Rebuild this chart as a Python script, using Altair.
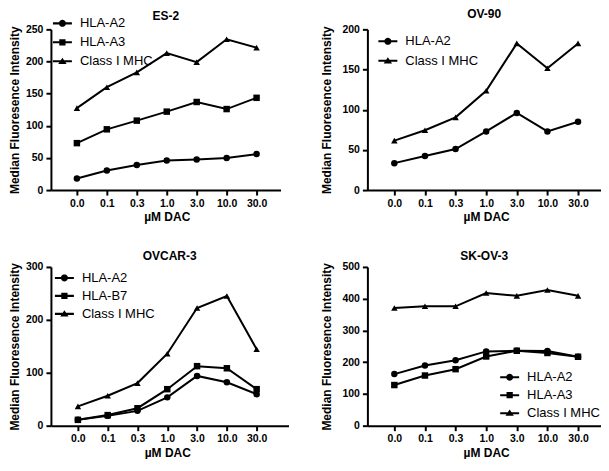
import json
import math
import altair as alt
import pandas as pd

# ---- data ----
dac_labels = ["0.0", "0.1", "0.3", "1.0", "3.0", "10.0", "30.0"]

es2_names = ["HLA-A2", "HLA-A3", "Class I MHC"]
es2_a2 = [18, 30.5, 39, 46, 47.5, 50, 56]
es2_a3 = [73, 94.5, 108, 122, 137, 126, 143.5]
es2_mhc = [127.5, 160, 183, 213, 199, 234.5, 221.5]

ov90_names = ["HLA-A2", "Class I MHC"]
ov90_a2 = [33.5, 42.5, 51, 73, 96, 73, 85]
ov90_mhc = [61.5, 74.5, 90.5, 123.5, 182.5, 151.5, 182.5]

ovcar3_names = ["HLA-A2", "HLA-B7", "Class I MHC"]
ovcar3_a2 = [11, 18.5, 28, 53.5, 94, 82, 59.5]
ovcar3_b7 = [11, 20, 33, 69, 112.5, 108.5, 69]
ovcar3_mhc = [36.5, 56.5, 80.5, 136, 222.5, 245, 144.5]

skov3_names = ["HLA-A2", "HLA-A3", "Class I MHC"]
skov3_a2 = [162.5, 189.5, 206, 234, 236, 235, 217]
skov3_a3 = [128, 158, 178, 218, 236, 229, 217]
skov3_mhc = [370.5, 376, 376, 418, 409, 427.5, 409]

FONT = "Liberation Sans"
Y_TITLE = "Median Fluoresence Intensity"
X_TITLE = "\u00b5M DAC"

# marker glyphs on the plot
MARKERS = {"circle": "circle", "square": "square", "triangle": "triangle-up"}

# legend glyphs (filled outlines only, all clockwise): a bar for the line plus the marker
BAR = "M-1,-0.11H1V0.11H-1Z"
_r = 0.37
_circ = "M" + "L".join(
    "%.3f,%.3f" % (_r * math.cos(2 * math.pi * k / 20), _r * math.sin(2 * math.pi * k / 20))
    for k in range(20)) + "Z"
LEG = {
    "circle": BAR + _circ,
    "square": BAR + "M-0.33,-0.33H0.33V0.33H-0.33Z",
    "triangle": BAR + "M0,-0.38L0.44,0.28H-0.44Z",
}


def kind(name):
    if name == "HLA-A2":
        return "circle"
    if name == "Class I MHC":
        return "triangle"
    return "square"


def panel(title, names, series, ymax, ystep, width, height, dmin, dmax,
          legx, legy, ytp, toff, rowpad):
    rows = []
    for nm, vals in zip(names, series):
        for i, v in enumerate(vals):
            rows.append({"idx": i, "value": v, "series": nm, "key": nm})
    df = pd.DataFrame(rows)
    tx = (3 - dmin) / (dmax - dmin) * width
    x = alt.X(
        "idx:Q",
        scale=alt.Scale(domain=[dmin, dmax], nice=False, zero=False),
        axis=alt.Axis(
            values=list(range(len(dac_labels))),
            labelExpr=json.dumps(dac_labels) + "[datum.value]",
            title=X_TITLE, titleX=tx, labelPadding=3, titlePadding=3,
        ),
    )
    y = alt.Y(
        "value:Q",
        scale=alt.Scale(domain=[0, ymax], nice=False),
        axis=alt.Axis(values=list(range(0, ymax + 1, ystep)), title=Y_TITLE,
                      titlePadding=ytp, labelPadding=3),
    )
    base = alt.Chart(df)
    line = base.mark_line(color="black", strokeWidth=2).encode(
        x=x, y=y, detail="series:N")
    pts = base.mark_point(filled=True, color="black", opacity=1, size=42).encode(
        x=x, y=y,
        shape=alt.Shape("series:N", scale=alt.Scale(
            domain=names, range=[MARKERS[kind(n)] for n in names]), legend=None),
    )
    leg = base.transform_filter("false").mark_point(
        filled=True, fill="black", opacity=1
    ).encode(
        shape=alt.Shape("key:N", scale=alt.Scale(
            domain=names, range=[LEG[kind(n)] for n in names]),
            legend=alt.Legend(
                title=None, orient="none", legendX=legx, legendY=legy,
                symbolSize=361, symbolStrokeWidth=0,
                labelFont=FONT, labelFontSize=13,
                labelColor="black", labelOffset=8, rowPadding=rowpad, padding=0,
                labelLimit=300)),
    )
    return alt.layer(line, pts, leg).resolve_scale(shape="independent").properties(
        width=width, height=height,
        title=alt.TitleParams(title, anchor="middle", frame="group", offset=toff),
    )


p1 = panel("ES-2", es2_names, [es2_a2, es2_a3, es2_mhc], 250, 50,
           230, 161, -0.867, 6.8, 2, -15.5, 4, -9, 2)
p2 = panel("OV-90", ov90_names, [ov90_a2, ov90_mhc], 200, 50,
           234, 161, -0.88, 6.75, 11, 2.5, 8, 3, 2.5)
p3 = panel("OVCAR-3", ovcar3_names, [ovcar3_a2, ovcar3_b7, ovcar3_mhc], 300, 100,
           238, 159, -0.905, 7.07, 4, 1.5, 4, -1, 1)
p4 = panel("SK-OV-3", skov3_names, [skov3_a2, skov3_a3, skov3_mhc], 500, 100,
           234, 159, -0.88, 6.75, 133, 101, 8, -1, 1)

chart = alt.concat(p1, p2, p3, p4, columns=2, spacing={"row": 27, "column": 32}).properties(
    padding=0
).configure_view(stroke=None).configure_axis(
    grid=False, domainColor="black", domainWidth=2, tickColor="black",
    tickWidth=2, tickSize=5, labelFont=FONT, labelFontSize=10.5,
    labelFontWeight="bold", labelColor="black", titleFont=FONT,
    titleFontSize=12, titleFontWeight="bold", titleColor="black",
).configure_title(font=FONT, fontSize=12, fontWeight="bold", color="black")

chart.save("out.html", embed_options={"renderer": "svg", "actions": False})
